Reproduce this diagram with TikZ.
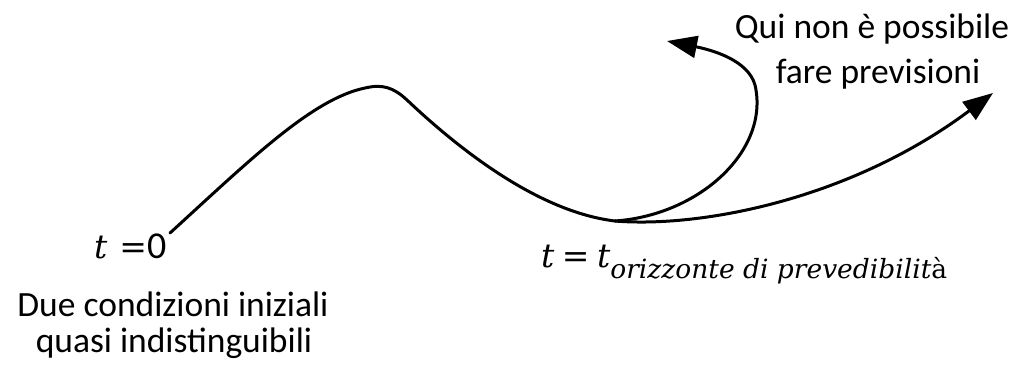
\documentclass[tikz,border=0pt]{standalone}
\usepackage{fontspec}
\setmainfont{Carlito}
\newfontfamily\ms{DejaVu Serif}
\usetikzlibrary{arrows.meta}
\begin{document}
\begin{tikzpicture}[x=1pt,y=-1pt,
  traj/.style={line width=3pt,line cap=round},
  tip/.style={-{Triangle[length=30pt,width=22pt]}},
  lbl/.style={font=\fontsize{35.5}{40}\selectfont,inner sep=0pt,anchor=base},
  mlbl/.style={font=\fontsize{33}{38}\selectfont,inner sep=0pt,anchor=base west}]
\useasboundingbox (0,0) rectangle (1019,367);
\coordinate (s) at (170,233);
\coordinate (j) at (615,221);
\coordinate (a1) at (667,41);
\coordinate (a2) at (993,93);
\draw[traj] (s) .. controls (250,160) and (312,99) .. (365,88)
  .. controls (382,84) and (393,87) .. (407,100)
  .. controls (462,152) and (540,212) .. (j);
\draw[traj,tip] (j) .. controls (700,215) and (770,150) .. (755,85)
  .. controls (748,60) and (712,50) .. (a1);
\draw[traj,tip] (j) .. controls (700,228) and (850,200) .. (a2);
\node[mlbl] (t0) at (94,258) {{\ms\itshape t}\hspace{12pt}{\ms =}{\fontsize{38}{42}\selectfont 0}};
\node[mlbl] (th) at (541,267) {{\ms\itshape t} {\ms =} {\ms\itshape t}\raisebox{-11pt}{\fontsize{26.5}{30}\selectfont\ms\itshape orizzonte di prevedibilit\upshape à}};
\node[lbl] (dc1) at (173,316) {Due condizioni iniziali};
\node[lbl] (dc2) at (174,352) {quasi indistinguibili};
\node[lbl] (qn1) at (872,38) {Qui non è possibile};
\node[lbl] (qn2) at (878,83) {fare previsioni};
\end{tikzpicture}
\end{document}
